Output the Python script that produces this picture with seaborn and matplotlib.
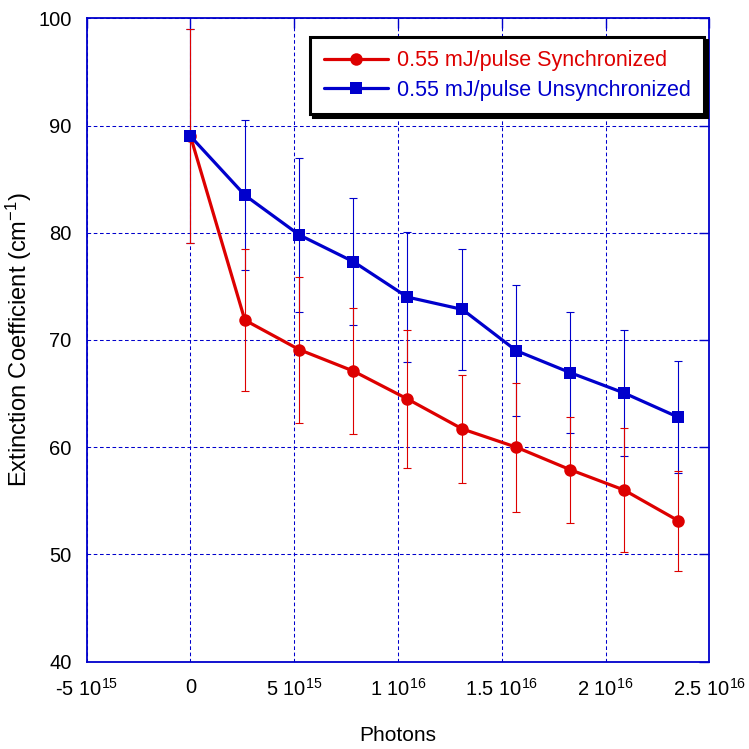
import matplotlib
matplotlib.use("Agg")
import matplotlib.pyplot as plt
import seaborn as sns
import pandas as pd

# Photon dose at each measurement
photons = [0.0, 2.62e15, 5.24e15, 7.85e15, 10.45e15, 13.1e15, 15.7e15, 18.3e15, 20.9e15, 23.5e15]

# Extinction coefficient (cm^-1) and error half-widths
sync_mean = [89.0, 71.85, 69.1, 67.1, 64.5, 61.7, 60.0, 57.9, 56.0, 53.15]
sync_err = [10.0, 6.65, 6.8, 5.9, 6.4, 5.0, 6.0, 4.95, 5.8, 4.65]
unsync_mean = [89.0, 83.5, 79.8, 77.3, 74.0, 72.85, 69.0, 66.95, 65.05, 62.8]
unsync_err = [10.0, 7.0, 7.2, 5.9, 6.1, 5.65, 6.1, 5.65, 5.85, 5.2]

series_names = ["0.55 mJ/pulse Synchronized", "0.55 mJ/pulse Unsynchronized"]
series_colors = ["#DD0000", "#0000CC"]

x_ticks = [-5e15, 0, 5e15, 1e16, 1.5e16, 2e16, 2.5e16]
x_tick_labels = ["-5 10$^{15}$", "0", "5 10$^{15}$", "1 10$^{16}$",
                 "1.5 10$^{16}$", "2 10$^{16}$", "2.5 10$^{16}$"]
y_ticks = [40, 50, 60, 70, 80, 90, 100]

sns.set_theme(style="white")
plt.rcParams["font.family"] = ["Liberation Sans", "DejaVu Sans"]
plt.rcParams["mathtext.default"] = "regular"

df = pd.DataFrame({
    "Photons": photons * 2,
    "Extinction": sync_mean + unsync_mean,
    "Series": [series_names[0]] * len(photons) + [series_names[1]] * len(photons),
})

fig = plt.figure(figsize=(7.49, 7.49), dpi=100)
ax = fig.add_axes([0.1158, 0.1166, 0.8312, 0.859])

axis_blue = "#0000CC"

# error bars, thin solid lines with small caps
for mean, err, col in [(unsync_mean, unsync_err, series_colors[1]),
                       (sync_mean, sync_err, series_colors[0])]:
    ax.errorbar(photons, mean, yerr=err, fmt="none", ecolor=col,
                elinewidth=0.8, capsize=2.8, capthick=0.8, zorder=2)

sns.lineplot(data=df, x="Photons", y="Extinction", hue="Series", style="Series",
             palette=dict(zip(series_names, series_colors)),
             markers={series_names[0]: "o", series_names[1]: "s"},
             dashes=False, markersize=9, markeredgewidth=0, linewidth=2.3,
             ax=ax, zorder=3, legend=True)

ax.set_xlim(-5e15, 2.5e16)
ax.set_ylim(40, 100)
ax.set_xticks(x_ticks)
ax.set_xticklabels(x_tick_labels)
ax.set_yticks(y_ticks)

ax.grid(True, color=axis_blue, linewidth=0.75, linestyle=(0, (3.5, 2.5)))
ax.set_axisbelow(True)
for s in ax.spines.values():
    s.set_color(axis_blue)
    s.set_linewidth(1.3)

ax.tick_params(axis="both", which="both", direction="in", length=7, width=1,
               color=axis_blue, top=True, right=True, labelsize=14.5,
               labelcolor="black")
ax.tick_params(axis="y", pad=11)
ax.tick_params(axis="x", pad=12)

ax.set_xlabel("Photons", fontsize=15, color="black")
ax.set_ylabel("Extinction Coefficient (cm$^{-1}$)", fontsize=17, color="black")
ax.xaxis.set_label_coords(0.5, -0.1)
ax.yaxis.set_label_coords(-0.084, 0.5)

handles, labels = ax.get_legend_handles_labels()
leg = ax.legend(handles, labels, loc="upper right", bbox_to_anchor=(0.9915, 0.971),
                borderaxespad=0, fontsize=15.5, handlelength=3.0, handletextpad=0.4,
                labelspacing=0.4, borderpad=0.62, fancybox=False, framealpha=1,
                edgecolor="black", shadow={"color": "black", "alpha": 1, "ox": 2, "oy": -2})
leg.get_frame().set_linewidth(2.2)
for txt, col in zip(leg.get_texts(), series_colors):
    txt.set_color(col)

fig.savefig("out.png", dpi=100)
